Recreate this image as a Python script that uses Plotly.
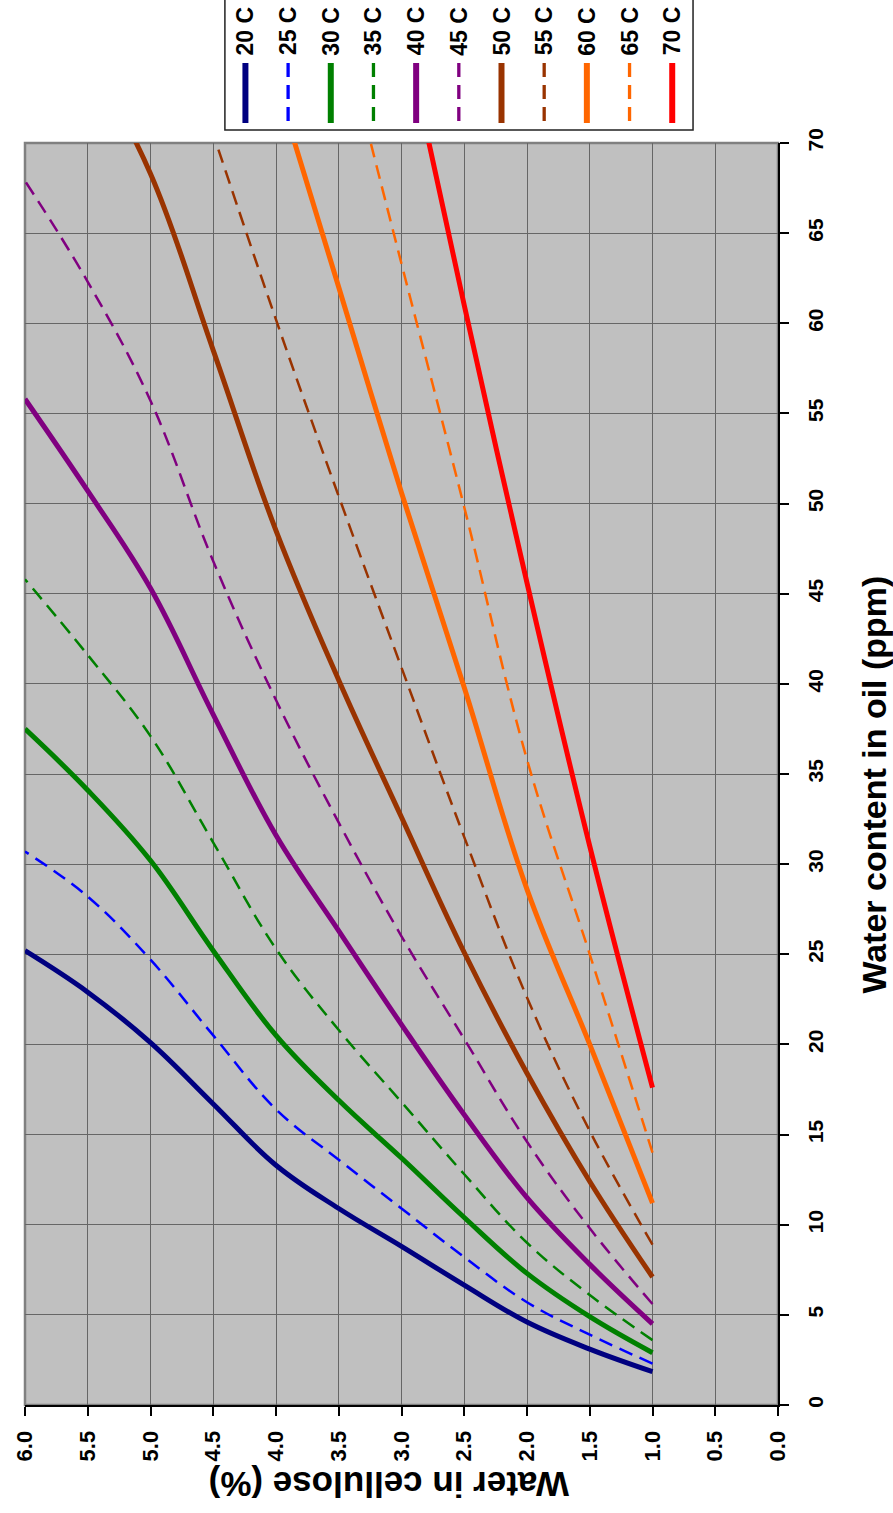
import plotly.graph_objects as go

# ---------------- data ----------------
water_cellulose = [1.0, 1.5, 2.0, 2.5, 3.0, 3.5, 4.0, 4.5, 5.0, 5.5, 6.0]

series_names = ["20 C", "25 C", "30 C", "35 C", "40 C", "45 C",
                "50 C", "55 C", "60 C", "65 C", "70 C"]

ppm_20C = [1.85, 3.1, 4.6, 6.65, 8.8, 10.9, 13.3, 16.7, 20.1, 22.9, 25.2]
ppm_25C = [2.3, 3.9, 5.7, 8.2, 10.9, 13.6, 16.4, 20.5, 24.7, 28.2, 30.7]
ppm_30C = [2.9, 4.9, 7.3, 10.4, 13.7, 16.9, 20.5, 25.2, 30.2, 34.1, 37.5]
ppm_35C = [3.6, 6.1, 9.0, 12.8, 16.8, 20.8, 25.3, 31.2, 37.1, 41.6, 45.8]
ppm_40C = [4.5, 7.8, 11.5, 16.1, 21.1, 26.3, 31.6, 38.3, 45.3, 50.7, 55.8]
ppm_45C = [5.6, 9.8, 14.6, 20.3, 26.0, 32.3, 39.1, 46.8, 55.7, 62.3, 67.9]
ppm_50C = [7.1, 12.4, 18.4, 25.1, 32.6, 40.2, 48.5, 58.5, 68.3, 75.0]
ppm_55C = [8.9, 15.2, 22.6, 31.5, 40.9, 50.4, 60.2, 70.5]
ppm_60C = [11.2, 20.0, 28.6, 39.8, 50.6, 62.0, 73.4]
ppm_65C = [14.0, 25.0, 35.8, 49.8, 63.3, 77.0]
ppm_70C = [17.6, 31.0, 45.6, 61.0, 77.0]

series_values = [ppm_20C, ppm_25C, ppm_30C, ppm_35C, ppm_40C, ppm_45C,
                 ppm_50C, ppm_55C, ppm_60C, ppm_65C, ppm_70C]

# ---------------- styles ----------------
colors = ["#000080", "#0000FF", "#008000", "#008000", "#800080", "#800080",
          "#993300", "#993300", "#FF6600", "#FF6600", "#FF0000"]
dashed = [False, True, False, True, False, True, False, True, False, True, False]
DASH = "14px,8px"
FONT = "Liberation Sans, Arial, Helvetica, sans-serif"

W, H = 893, 1513
ML, MR, MT, MB = 22, 115, 143, 108
PW, PH = W - ML - MR, H - MT - MB


def px_x(px):
    return (px - ML) / PW


def px_y(py):
    return (H - MB - py) / PH


fig = go.Figure()
for name, vals, col, dsh in zip(series_names, series_values, colors, dashed):
    fig.add_trace(go.Scatter(
        x=water_cellulose[:len(vals)], y=vals, mode="lines", name=name,
        line=dict(color=col, width=2.5 if dsh else 5,
                  dash=DASH if dsh else "solid", shape="spline", smoothing=1.1),
        showlegend=False, hoverinfo="skip"))

shapes = []
annotations = []

# plot border (grey, left/top)
shapes.append(dict(type="rect", xref="paper", yref="paper", x0=0, y0=0, x1=1, y1=1,
                   line=dict(color="#808080", width=2.5), layer="below"))

# manual legend (rotated)
box_x0, box_x1 = px_x(222.7), px_x(692.7)
shapes.append(dict(type="rect", xref="paper", yref="paper",
                   x0=box_x0, x1=box_x1, y0=px_y(130), y1=px_y(-10),
                   line=dict(color="#222222", width=1.5), fillcolor="white"))
first_c, step = 243.3, 42.85
for i, (name, col, dsh) in enumerate(zip(series_names, colors, dashed)):
    cx = px_x(first_c + i * step)
    shapes.append(dict(type="line", xref="paper", yref="paper",
                       x0=cx, x1=cx, y0=px_y(63), y1=px_y(123),
                       line=dict(color=col, width=3.3 if dsh else 6,
                                 dash=DASH if dsh else "solid")))
    annotations.append(dict(xref="paper", yref="paper", x=cx, y=px_y(31),
                            text="<b>%s</b>" % name, showarrow=False, textangle=-90,
                            xanchor="center", yanchor="middle",
                            font=dict(family=FONT, size=23, color="black")))

# axis titles (rotated)
annotations.append(dict(xref="paper", yref="paper", x=px_x(874), y=px_y(785),
                        text="<b>Water content in oil (ppm)</b>", showarrow=False,
                        textangle=-90, xanchor="center", yanchor="middle",
                        font=dict(family=FONT, size=34, color="black")))
annotations.append(dict(xref="paper", yref="paper", x=px_x(388), y=px_y(1485),
                        text="<b>Water in cellulose (%)</b>", showarrow=False,
                        textangle=180, xanchor="center", yanchor="middle",
                        font=dict(family=FONT, size=35, color="black")))

fig.update_layout(
    width=W, height=H, autosize=False,
    margin=dict(l=ML, r=MR, t=MT, b=MB, pad=0),
    paper_bgcolor="white", plot_bgcolor="#C0C0C0",
    shapes=shapes, annotations=annotations,
    xaxis=dict(range=[6, 0], tick0=0, dtick=0.5, tickformat=".1f", tickangle=-90,
               ticks="outside", ticklen=9, tickwidth=1.5, tickcolor="black",
               showline=True, linecolor="black", linewidth=2,
               showgrid=True, gridcolor="#666666", gridwidth=1, zeroline=False,
               ticklabelstandoff=6,
               tickfont=dict(family=FONT, size=22, color="black", weight="bold")),
    yaxis=dict(range=[0, 70], tick0=0, dtick=5, side="right", tickangle=-90,
               ticks="outside", ticklen=9, tickwidth=1.5, tickcolor="black",
               showline=True, linecolor="black", linewidth=2,
               showgrid=True, gridcolor="#666666", gridwidth=1, zeroline=False,
               ticklabelstandoff=9,
               tickfont=dict(family=FONT, size=21, color="black", weight="bold")),
)

fig.write_html("out.html")
